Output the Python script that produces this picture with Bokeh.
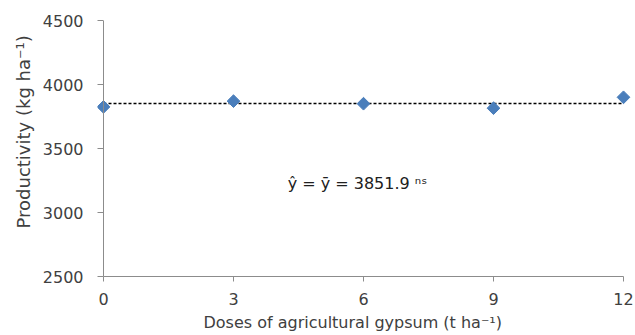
import math
from bokeh.plotting import figure
from bokeh.models import Range1d, FixedTicker, Label, Span, Title
from bokeh.embed import file_html
from bokeh.resources import INLINE

# ---- data ----
doses = [0, 3, 6, 9, 12]
productivity = [3825, 3870, 3850, 3815, 3900]
mean_value = 3851.9
x_ticks = [0, 3, 6, 9, 12]
y_ticks = [2500, 3000, 3500, 4000, 4500]
x_title = "Doses of agricultural gypsum  (t ha\u207b\u00b9)"
y_title = "Productivity (kg ha\u207b\u00b9)"
equation = "\u0177 = \u0233 = 3851.9 \u207f\u02e2"

FONT = "DejaVu Sans"
TXT = "#404040"
AX = "#8c8c8c"

p = figure(width=635, height=335, output_backend="svg", toolbar_location=None,
           x_range=Range1d(-0.1385, 12.277), y_range=Range1d(2500, 4500),
           min_border_left=97, min_border_right=0, min_border_top=20,
           min_border_bottom=59)
p.outline_line_color = None
p.xgrid.visible = False
p.ygrid.visible = False

# axes
p.xaxis.ticker = FixedTicker(ticks=x_ticks)
p.yaxis.ticker = FixedTicker(ticks=y_ticks)
p.xaxis.bounds = (min(x_ticks), max(x_ticks))
for ax in (p.xaxis[0], p.yaxis[0]):
    ax.axis_line_color = AX
    ax.major_tick_line_color = AX
    ax.minor_tick_line_color = None
    ax.major_label_text_font = FONT
    ax.major_label_text_font_size = "16px"
    ax.major_label_text_color = TXT
p.xaxis.major_tick_in = 0
p.xaxis.major_tick_out = 5
p.xaxis.major_label_standoff = 11
# y axis drawn at x = 0 (frame edge sits a few px to the left)
p.yaxis.axis_line_color = None
p.yaxis.major_tick_in = 6
p.yaxis.major_tick_out = 0
p.yaxis.major_label_standoff = 14
p.add_layout(Span(location=min(x_ticks), dimension="height", line_color=AX, line_width=1))

# titles
p.add_layout(Title(text=y_title, align="left", offset=48, text_font=FONT,
                   text_font_size="18px", text_font_style="normal",
                   text_color=TXT, standoff=11), "left")
p.add_layout(Title(text=x_title, align="left", offset=106, text_font=FONT,
                   text_font_size="16px", text_font_style="normal",
                   text_color=TXT, standoff=7), "below")

# mean line
p.line([min(doses), max(doses)], [mean_value, mean_value], line_color="black",
       line_width=1.5, line_dash="3 2")

# points
p.scatter(doses, productivity, marker="square", size=9, angle=math.pi / 4,
          fill_color="#4a7ebb", line_color="#4a7ebb")

p.add_layout(Label(x=4.25, y=3227, text=equation,
                   text_align="left", text_baseline="middle",
                   text_font=FONT, text_font_size="16px", text_color="#202020"))

open("out.html", "w").write(file_html(p, INLINE))
